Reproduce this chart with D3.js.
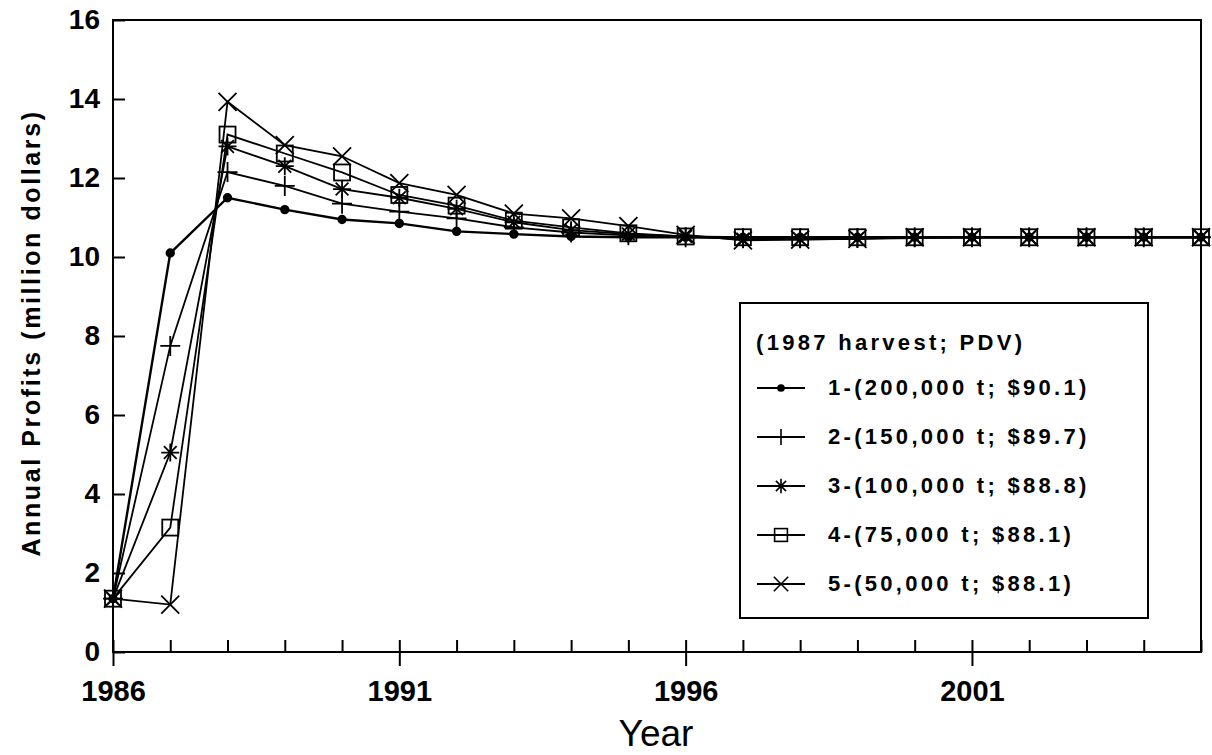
<!DOCTYPE html>
<html>
<head>
<meta charset="utf-8">
<script src="https://cdn.jsdelivr.net/npm/d3@7"></script>
<style>
  body { margin: 0; background: #fff; }
  svg { display: block; font-family: "Liberation Sans", Arial, sans-serif; }
</style>
</head>
<body>
<div class="chart"></div>
<script>
// years on the x axis
const years = [1986, 1987, 1988, 1989, 1990, 1991, 1992, 1993, 1994, 1995,
  1996, 1997, 1998, 1999, 2000, 2001, 2002, 2003, 2004, 2005];

// annual profits (million dollars), one list per 1987 harvest level
const harvest200 = [1.35, 10.1, 11.5, 11.2, 10.95, 10.85, 10.65, 10.58, 10.52, 10.5,
  10.5, 10.5, 10.5, 10.5, 10.5, 10.5, 10.5, 10.5, 10.5, 10.5];
const harvest150 = [1.35, 7.75, 12.15, 11.8, 11.35, 11.15, 10.98, 10.75, 10.62, 10.55,
  10.5, 10.48, 10.48, 10.48, 10.5, 10.5, 10.5, 10.5, 10.5, 10.5];
const harvest100 = [1.35, 5.05, 12.8, 12.3, 11.72, 11.5, 11.22, 10.88, 10.68, 10.58,
  10.52, 10.45, 10.45, 10.46, 10.48, 10.5, 10.5, 10.5, 10.5, 10.5];
const harvest75 = [1.35, 3.15, 13.1, 12.62, 12.14, 11.57, 11.3, 10.92, 10.75, 10.6,
  10.52, 10.5, 10.5, 10.5, 10.5, 10.5, 10.5, 10.5, 10.5, 10.5];
const harvest50 = [1.35, 1.2, 13.93, 12.83, 12.55, 11.87, 11.57, 11.1, 10.98, 10.78,
  10.56, 10.42, 10.44, 10.46, 10.5, 10.5, 10.5, 10.5, 10.5, 10.5];

const seriesNames = ['1-(200,000 t; $90.1)', '2-(150,000 t; $89.7)', '3-(100,000 t; $88.8)',
  '4-(75,000 t; $88.1)', '5-(50,000 t; $88.1)'];
const seriesMarkers = ['dot', 'plus', 'star', 'square', 'cross'];
const legendTitle = '(1987 harvest; PDV)';

const yTicks = [0, 2, 4, 6, 8, 10, 12, 14, 16];
const xLabelTicks = [1986, 1991, 1996, 2001];

const allSeries = [harvest200, harvest150, harvest100, harvest75, harvest50].map((vals, i) => ({
  name: seriesNames[i],
  marker: seriesMarkers[i],
  points: vals.map((v, j) => ({year: years[j], value: v}))
}));

const width = 1212;
const height = 755;
const margin = {top: 20, left: 113, right: 11, bottom: 103};

const x = d3.scaleLinear().domain([1986, 2005]).range([margin.left, width - margin.right]);
const y = d3.scaleLinear().domain([0, 16]).range([height - margin.bottom, margin.top]);

const svg = d3.select('.chart').append('svg')
  .attr('width', width).attr('height', height);

// draws a marker shape centred on 0,0
function drawMarker(g, type, s) {
  if (type === 'dot') {
    g.append('circle').attr('r', 3.8 * s).attr('fill', '#000');
  } else if (type === 'plus') {
    g.append('path').attr('d', `M${-10 * s},0H${10 * s}M0,${-10 * s}V${10 * s}`);
  } else if (type === 'star') {
    const r = 9 * s;
    const d = r * 0.7071;
    g.append('path').attr('d',
      `M${-r},0H${r}M0,${-r}V${r}M${-d},${-d}L${d},${d}M${-d},${d}L${d},${-d}`);
  } else if (type === 'square') {
    g.append('rect').attr('x', -8 * s).attr('y', -8 * s)
      .attr('width', 16 * s).attr('height', 16 * s).attr('fill', 'none');
  } else if (type === 'cross') {
    const r = 9 * s;
    g.append('path').attr('d', `M${-r},${-r}L${r},${r}M${-r},${r}L${r},${-r}`);
  }
}

// frame
svg.append('rect')
  .attr('x', x(1986)).attr('y', y(16))
  .attr('width', x(2005) - x(1986)).attr('height', y(0) - y(16))
  .attr('fill', 'none').attr('stroke', '#000').attr('stroke-width', 2);

// y axis, ticks pointing inward
const yAxis = svg.append('g')
  .attr('transform', `translate(${x(1986)},0)`)
  .call(d3.axisLeft(y).tickValues(yTicks).tickSize(-12).tickPadding(13));
yAxis.select('.domain').remove();
yAxis.selectAll('line').attr('stroke-width', 2);
yAxis.selectAll('text')
  .attr('font-size', 28).attr('font-weight', 'bold').attr('fill', '#000')
  .attr('font-family', '"Liberation Sans", Arial, sans-serif');

// x axis: small inward ticks every year
const xMinor = svg.append('g')
  .attr('transform', `translate(0,${y(0)})`)
  .call(d3.axisBottom(x).tickValues(years).tickSize(-12).tickFormat(''));
xMinor.select('.domain').remove();
xMinor.selectAll('line').attr('stroke-width', 2);

// x axis: labelled ticks that also reach below the axis
const xMajor = svg.append('g')
  .attr('transform', `translate(0,${y(0)})`)
  .call(d3.axisBottom(x).tickValues(xLabelTicks).tickSize(14).tickPadding(14)
    .tickFormat(d3.format('d')));
xMajor.select('.domain').remove();
xMajor.selectAll('line').attr('stroke-width', 2);
xMajor.selectAll('text')
  .attr('font-size', 29).attr('font-weight', 'bold').attr('fill', '#000')
  .attr('font-family', '"Liberation Sans", Arial, sans-serif');

// axis titles
svg.append('text')
  .attr('x', 656).attr('y', 746)
  .attr('text-anchor', 'middle')
  .attr('font-size', 37)
  .text('Year');

svg.append('text')
  .attr('transform', 'translate(40,333) rotate(-90)')
  .attr('text-anchor', 'middle')
  .attr('font-size', 25)
  .attr('font-weight', 'bold')
  .attr('letter-spacing', 2.6)
  .text('Annual Profits (million dollars)');

// series lines
const line = d3.line().x(d => x(d.year)).y(d => y(d.value));
svg.selectAll('.series').data(allSeries).enter()
  .append('path')
  .attr('class', 'series')
  .attr('d', d => line(d.points))
  .attr('fill', 'none')
  .attr('stroke', '#000')
  .attr('stroke-width', (d, i) => i === 0 ? 2.4 : 1.8);

// markers
allSeries.forEach(s => {
  s.points.forEach(p => {
    const g = svg.append('g')
      .attr('transform', `translate(${x(p.year)},${y(p.value)})`)
      .attr('stroke', '#000').attr('stroke-width', 1.8).attr('fill', 'none');
    drawMarker(g, s.marker, 1);
  });
});

// legend
const legend = svg.append('g');
legend.append('rect')
  .attr('x', 740).attr('y', 303).attr('width', 408).attr('height', 315)
  .attr('fill', '#fff').attr('stroke', '#000').attr('stroke-width', 2);
legend.append('text')
  .attr('x', 756).attr('y', 350)
  .attr('font-size', 22).attr('font-weight', 'bold').attr('letter-spacing', 3.3)
  .text(legendTitle);

const rows = legend.selectAll('.row').data(allSeries).enter()
  .append('g')
  .attr('class', 'row')
  .attr('transform', (d, i) => `translate(0,${395 + i * 49})`);
rows.append('line')
  .attr('x1', 757).attr('x2', 805).attr('y1', -7).attr('y2', -7)
  .attr('stroke', '#000').attr('stroke-width', 1.8);
rows.each(function(d) {
  const g = d3.select(this).append('g')
    .attr('transform', 'translate(781,-7)')
    .attr('stroke', '#000').attr('stroke-width', 1.6).attr('fill', 'none');
  drawMarker(g, d.marker, 0.8);
});
rows.append('text')
  .attr('x', 828).attr('y', 0)
  .attr('font-size', 22).attr('font-weight', 'bold').attr('letter-spacing', 3.3)
  .text(d => d.name);
</script>
</body>
</html>
